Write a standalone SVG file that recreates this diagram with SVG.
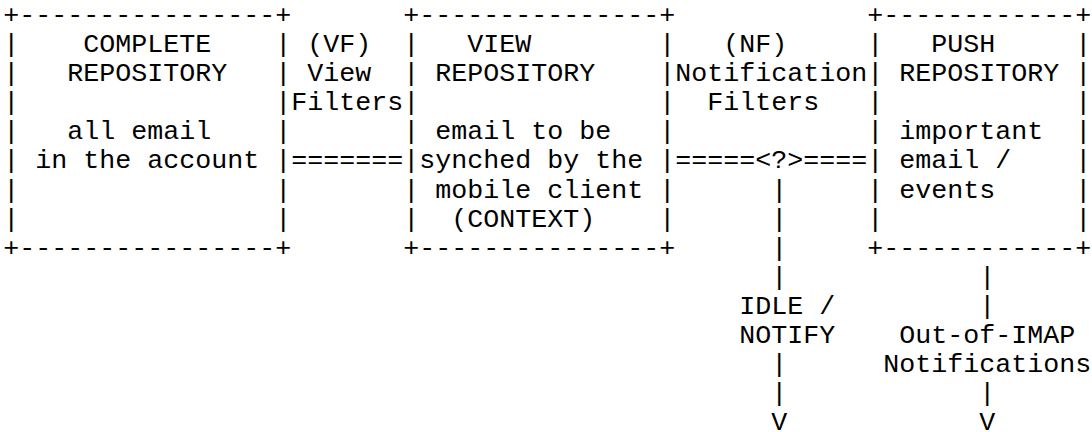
<svg xmlns="http://www.w3.org/2000/svg" width="1092" height="432" viewBox="0 0 1092 432">
<style>
text { font-family: "Liberation Mono", "Courier New", monospace; font-size: 26.67px; fill: #000; }
</style>
<rect width="1092" height="432" fill="#fff"/>
<g id="complete-repository">
<text x="3.3" y="22.9">+----------------+</text>
<text x="3.3" y="255.7">+----------------+</text>
<text x="3.3 275.3 3.3 275.3 3.3 275.3 3.3 275.3 3.3 275.3 3.3 275.3 3.3 275.3" y="52 52 81.1 81.1 110.2 110.2 139.3 139.3 168.4 168.4 197.5 197.5 226.6 226.6">||||||||||||||</text>
<text x="83.3" y="52">COMPLETE</text>
<text x="67.3" y="81.1">REPOSITORY</text>
<text x="67.3" y="139.3">all email</text>
<text x="35.3" y="168.4">in the account</text>
</g>
<g id="view-filters">
<text x="307.3" y="52">(VF)</text>
<text x="307.3" y="81.1">View</text>
<text x="291.3" y="110.2">Filters</text>
</g>
<g id="view-repository">
<text x="403.3" y="22.9">+---------------+</text>
<text x="403.3" y="255.7">+---------------+</text>
<text x="403.3 659.3 403.3 659.3 403.3 659.3 403.3 659.3 403.3 659.3 403.3 659.3 403.3 659.3" y="52 52 81.1 81.1 110.2 110.2 139.3 139.3 168.4 168.4 197.5 197.5 226.6 226.6">||||||||||||||</text>
<text x="467.3" y="52">VIEW</text>
<text x="435.3" y="81.1">REPOSITORY</text>
<text x="435.3" y="139.3">email to be</text>
<text x="419.3" y="168.4">synched by the</text>
<text x="435.3" y="197.5">mobile client</text>
<text x="451.3" y="226.6">(CONTEXT)</text>
</g>
<g id="notification-filters">
<text x="723.3" y="52">(NF)</text>
<text x="675.3" y="81.1">Notification</text>
<text x="707.3" y="110.2">Filters</text>
</g>
<g id="push-repository">
<text x="867.3" y="22.9">+------------+</text>
<text x="867.3" y="255.7">+------------+</text>
<text x="867.3 1075.3 867.3 1075.3 867.3 1075.3 867.3 1075.3 867.3 1075.3 867.3 1075.3 867.3 1075.3" y="52 52 81.1 81.1 110.2 110.2 139.3 139.3 168.4 168.4 197.5 197.5 226.6 226.6">||||||||||||||</text>
<text x="931.3" y="52">PUSH</text>
<text x="899.3" y="81.1">REPOSITORY</text>
<text x="899.3" y="139.3">important</text>
<text x="899.3" y="168.4">email /</text>
<text x="899.3" y="197.5">events</text>
</g>
<g id="connectors">
<text x="291.3" y="168.4">=======</text>
<text x="675.3" y="168.4">=====&lt;?&gt;====</text>
<text x="771.3 771.3 771.3 771.3 771.3 771.3" y="197.5 226.6 255.7 284.8 372.1 401.2">||||||</text>
<text x="771.3" y="430.3">V</text>
<text x="979.3 979.3 979.3" y="284.8 313.9 401.2">|||</text>
<text x="979.3" y="430.3">V</text>
<g id="idle-notify-label">
<text x="739.3" y="313.9">IDLE /</text>
<text x="739.3" y="343">NOTIFY</text>
</g>
<g id="out-of-imap-label">
<text x="899.3" y="343">Out-of-IMAP</text>
<text x="883.3" y="372.1">Notifications</text>
</g>
</g>
</svg>
